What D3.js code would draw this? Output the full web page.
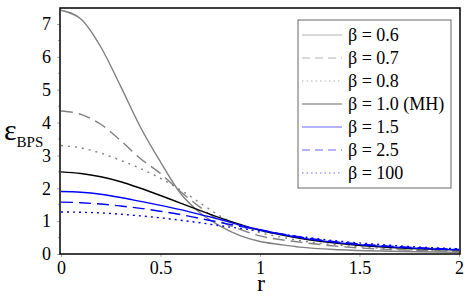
<!DOCTYPE html>
<html>
<head>
<meta charset="utf-8">
<script src="https://cdn.jsdelivr.net/npm/d3@7"></script>
<style>
  body { margin: 0; background: #fff; }
</style>
</head>
<body>
<div id="chart"></div>
<script>
// radial positions sampled along each curve
const rValues = [0, 0.1, 0.2, 0.3, 0.4, 0.5, 0.6, 0.7, 0.8, 0.9, 1.0, 1.1, 1.2, 1.4, 1.6, 1.8, 2.0];

// eps_BPS, one list per beta
const beta06 = [7.42, 7.15, 6.3, 5.1, 3.85, 2.8, 1.85, 1.25, 0.85, 0.56, 0.38, 0.29, 0.21, 0.13, 0.09, 0.07, 0.05];
const beta07 = [4.35, 4.25, 3.95, 3.45, 2.9, 2.45, 1.9, 1.42, 1.0, 0.75, 0.55, 0.44, 0.36, 0.23, 0.15, 0.11, 0.08];
const beta08 = [3.3, 3.23, 3.07, 2.85, 2.6, 2.3, 1.95, 1.55, 1.15, 0.86, 0.65, 0.52, 0.41, 0.27, 0.18, 0.12, 0.09];
const beta10 = [2.5, 2.45, 2.35, 2.2, 2.0, 1.78, 1.55, 1.32, 1.1, 0.9, 0.72, 0.59, 0.48, 0.32, 0.22, 0.16, 0.12];
const beta15 = [1.9, 1.88, 1.82, 1.72, 1.6, 1.48, 1.35, 1.2, 1.05, 0.88, 0.74, 0.61, 0.5, 0.34, 0.24, 0.17, 0.13];
const beta25 = [1.58, 1.56, 1.52, 1.46, 1.39, 1.3, 1.2, 1.08, 0.96, 0.84, 0.73, 0.62, 0.52, 0.36, 0.26, 0.19, 0.14];
const beta100 = [1.28, 1.27, 1.25, 1.21, 1.16, 1.1, 1.03, 0.95, 0.86, 0.78, 0.7, 0.61, 0.53, 0.39, 0.29, 0.21, 0.16];

const labels = ["β = 0.6", "β = 0.7", "β = 0.8", "β = 1.0 (MH)", "β = 1.5", "β = 2.5", "β = 100"];
const xTicks = [0, 0.5, 1, 1.5, 2];
const yTicks = [0, 1, 2, 3, 4, 5, 6, 7];

const series = [
  { label: labels[0], values: beta06, color: "#808080", dash: null },
  { label: labels[1], values: beta07, color: "#808080", dash: "12,6" },
  { label: labels[2], values: beta08, color: "#808080", dash: "2,5" },
  { label: labels[3], values: beta10, color: "#000000", dash: null },
  { label: labels[4], values: beta15, color: "#0000ff", dash: null },
  { label: labels[5], values: beta25, color: "#0000ff", dash: "12,6" },
  { label: labels[6], values: beta100, color: "#0000ff", dash: "2,4" }
];

const width = 469, height = 296;
const plot = { left: 60, right: 460, top: 8, bottom: 254 };
const serif = "\"Liberation Serif\"";

const svg = d3.select("#chart").append("svg")
  .attr("width", width)
  .attr("height", height);

const x = d3.scaleLinear().domain([0, 2]).range([61, 459]);
const y = d3.scaleLinear().domain([0, 7]).range([254, 24]);

// curves
const line = d3.line()
  .x((d, i) => x(rValues[i]))
  .y(d => y(d))
  .curve(d3.curveMonotoneX);

svg.append("clipPath").attr("id", "clip")
  .append("rect")
  .attr("x", plot.left).attr("y", plot.top)
  .attr("width", plot.right - plot.left).attr("height", plot.bottom - plot.top);

svg.append("g").attr("clip-path", "url(#clip)")
  .selectAll("path")
  .data(series)
  .join("path")
  .attr("d", d => line(d.values))
  .attr("fill", "none")
  .attr("stroke", d => d.color)
  .attr("stroke-width", 1.4)
  .attr("stroke-dasharray", d => d.dash);

// axes
const xAxis = svg.append("g")
  .attr("transform", `translate(0,${plot.bottom})`)
  .call(d3.axisBottom(x).tickValues(xTicks).tickSize(3).tickPadding(4).tickFormat(d => String(d)));
xAxis.select(".domain").remove();
xAxis.selectAll("line").attr("stroke", "#aaa");
xAxis.selectAll("text")
  .style("font-family", serif).style("font-size", "18px")
  .attr("fill", "#000");

const yAxis = svg.append("g")
  .attr("transform", `translate(${plot.left},0)`)
  .call(d3.axisLeft(y).tickValues(yTicks).tickSize(3).tickPadding(6).tickFormat(d => String(d)));
yAxis.select(".domain").remove();
yAxis.selectAll("line").attr("stroke", "#aaa");
yAxis.selectAll("text")
  .style("font-family", serif).style("font-size", "18px")
  .attr("fill", "#000");

// minor ticks on y
svg.append("g")
  .selectAll("line")
  .data(d3.range(0.5, 7.5, 1))
  .join("line")
  .attr("x1", plot.left - 2).attr("x2", plot.left)
  .attr("y1", d => y(d)).attr("y2", d => y(d))
  .attr("stroke", "#aaa");

// frame
svg.append("rect")
  .attr("x", plot.left).attr("y", plot.top)
  .attr("width", plot.right - plot.left).attr("height", plot.bottom - plot.top)
  .attr("fill", "none")
  .attr("stroke", "#000")
  .attr("stroke-width", 1.5);

// axis titles
svg.append("text")
  .attr("x", 261).attr("y", 291)
  .attr("text-anchor", "middle")
  .style("font-family", serif).style("font-size", "24px")
  .text("r");

const yTitle = svg.append("text")
  .attr("x", 4).attr("y", 140)
  .style("font-family", serif).style("font-size", "30px");
yTitle.append("tspan").text("ε");
yTitle.append("tspan").style("font-size", "15px").attr("dy", 7).text("BPS");

// legend
const legend = svg.append("g");
legend.append("rect")
  .attr("x", 298).attr("y", 20)
  .attr("width", 153).attr("height", 168)
  .attr("fill", "#fff")
  .attr("stroke", "#666")
  .attr("stroke-width", 1);

const rows = legend.selectAll("g.row")
  .data(series)
  .join("g")
  .attr("class", "row")
  .attr("transform", (d, i) => `translate(0,${35 + i * 23})`);

rows.append("line")
  .attr("x1", 302).attr("x2", 342)
  .attr("y1", 0).attr("y2", 0)
  .attr("stroke", d => d.color)
  .attr("stroke-opacity", 0.6)
  .attr("stroke-width", 1.2)
  .attr("stroke-dasharray", d => d.dash ? (d.dash === "12,6" ? "8,5" : "1.5,3") : null);

rows.append("text")
  .attr("x", 348).attr("y", 6)
  .style("font-family", serif).style("font-size", "18px")
  .text(d => d.label);
</script>
</body>
</html>
